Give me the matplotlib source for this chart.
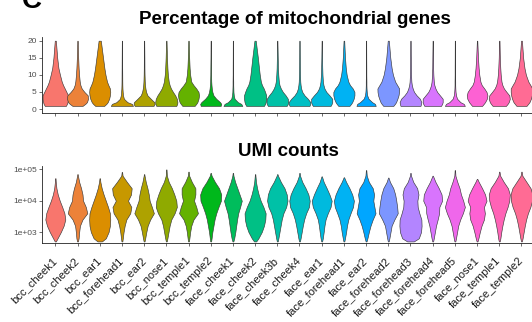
import numpy as np
import matplotlib
matplotlib.use("Agg")
import matplotlib.pyplot as plt

plt.rcParams['font.family'] = ['Liberation Sans', 'DejaVu Sans']

samples = [
    "bcc_cheek1", "bcc_cheek2", "bcc_ear1", "bcc_forehead1", "bcc_ear2",
    "bcc_nose1", "bcc_temple1", "bcc_temple2", "face_cheek1", "face_cheek2",
    "face_cheek3b", "face_cheek4", "face_ear1", "face_forehead1", "face_ear2",
    "face_forehead2", "face_forehead3", "face_forehead4", "face_forehead5",
    "face_nose1", "face_temple1", "face_temple2",
]

# percent mito: density width (fraction of slot) at each level
mito_levels = [0.9, 1.5, 2, 3, 4, 5, 6, 7, 8, 10, 12, 15, 20]
mito_density = [
    [0.95, 1.05, 1.1, 1.15, 1.15, 1.0, 0.85, 0.7, 0.58, 0.42, 0.28, 0.17, 0.05],
    [0.45, 0.7, 0.85, 0.95, 0.92, 0.62, 0.38, 0.26, 0.2, 0.14, 0.1, 0.06, 0.02],
    [0.4, 0.6, 0.72, 0.85, 0.92, 0.95, 0.92, 0.78, 0.66, 0.52, 0.42, 0.3, 0.1],
    [1.0, 0.9, 0.5, 0.18, 0.1, 0.07, 0.05, 0.04, 0.035, 0.03, 0.025, 0.02, 0.01],
    [0.85, 0.95, 0.92, 0.6, 0.3, 0.18, 0.12, 0.08, 0.06, 0.04, 0.03, 0.025, 0.01],
    [0.9, 0.98, 1.0, 0.95, 0.8, 0.6, 0.42, 0.3, 0.22, 0.14, 0.1, 0.06, 0.02],
    [0.55, 0.7, 0.8, 0.9, 0.95, 0.9, 0.7, 0.45, 0.25, 0.15, 0.1, 0.06, 0.02],
    [0.9, 0.95, 0.85, 0.5, 0.25, 0.15, 0.1, 0.07, 0.05, 0.035, 0.03, 0.02, 0.01],
    [0.85, 0.75, 0.45, 0.15, 0.08, 0.05, 0.04, 0.03, 0.03, 0.02, 0.02, 0.015, 0.01],
    [0.8, 0.9, 0.95, 1.0, 1.0, 0.9, 0.78, 0.62, 0.52, 0.42, 0.35, 0.25, 0.06],
    [0.85, 0.95, 0.98, 0.95, 0.75, 0.5, 0.32, 0.2, 0.14, 0.09, 0.06, 0.04, 0.01],
    [0.9, 0.97, 0.98, 0.75, 0.45, 0.25, 0.15, 0.1, 0.07, 0.05, 0.04, 0.03, 0.01],
    [0.8, 0.9, 0.95, 0.95, 0.7, 0.42, 0.25, 0.16, 0.11, 0.07, 0.05, 0.03, 0.01],
    [0.5, 0.65, 0.75, 0.88, 0.95, 0.95, 0.8, 0.55, 0.4, 0.25, 0.17, 0.1, 0.03],
    [0.87, 0.8, 0.55, 0.22, 0.1, 0.06, 0.04, 0.03, 0.03, 0.02, 0.02, 0.015, 0.01],
    [0.45, 0.6, 0.7, 0.82, 0.92, 0.97, 0.98, 0.8, 0.62, 0.42, 0.3, 0.18, 0.05],
    [0.9, 0.95, 0.98, 0.85, 0.55, 0.32, 0.2, 0.12, 0.08, 0.05, 0.04, 0.03, 0.01],
    [0.75, 0.85, 0.9, 0.9, 0.65, 0.4, 0.25, 0.15, 0.1, 0.06, 0.04, 0.03, 0.01],
    [0.9, 0.8, 0.5, 0.2, 0.1, 0.06, 0.04, 0.03, 0.03, 0.02, 0.02, 0.015, 0.01],
    [0.45, 0.6, 0.72, 0.88, 0.93, 0.85, 0.65, 0.42, 0.3, 0.2, 0.14, 0.08, 0.02],
    [0.6, 0.75, 0.85, 0.95, 0.9, 0.65, 0.42, 0.28, 0.2, 0.13, 0.09, 0.05, 0.02],
    [0.45, 0.6, 0.72, 0.85, 0.93, 0.97, 0.97, 0.8, 0.62, 0.4, 0.27, 0.15, 0.04],
]

# UMI counts: density width at each log10 level, plus the top of each violin
umi_log_levels = [2.7, 2.8, 3.0, 3.2, 3.4, 3.6, 3.8, 4.0, 4.2, 4.4, 4.6, 4.8, 5.0]
umi_log_max = [4.72, 4.85, 4.72, 4.92, 4.85, 5.0, 4.93, 4.89, 4.89, 4.85, 4.85,
               4.89, 4.78, 4.75, 4.98, 4.74, 4.89, 4.8, 4.98, 4.7, 4.93, 4.93]
umi_density = [
    [0.05, 0.2, 0.5, 0.75, 0.9, 0.82, 0.62, 0.4, 0.22, 0.1, 0.04, 0, 0],
    [0.04, 0.1, 0.15, 0.22, 0.45, 0.88, 0.75, 0.5, 0.45, 0.32, 0.15, 0.04, 0],
    [0.2, 0.55, 0.8, 0.92, 0.95, 0.92, 0.75, 0.55, 0.35, 0.18, 0.06, 0, 0],
    [0.04, 0.08, 0.15, 0.25, 0.4, 0.75, 0.85, 0.55, 0.82, 0.88, 0.45, 0.06, 0],
    [0.04, 0.1, 0.2, 0.32, 0.55, 0.88, 0.7, 0.5, 0.42, 0.3, 0.15, 0.04, 0],
    [0.04, 0.1, 0.2, 0.3, 0.45, 0.75, 0.95, 0.9, 0.72, 0.5, 0.22, 0.05, 0],
    [0.04, 0.08, 0.15, 0.25, 0.45, 0.85, 0.7, 0.5, 0.62, 0.62, 0.3, 0.06, 0],
    [0.04, 0.08, 0.15, 0.25, 0.35, 0.5, 0.7, 0.92, 0.95, 0.75, 0.38, 0.08, 0],
    [0.04, 0.12, 0.22, 0.3, 0.38, 0.48, 0.65, 0.8, 0.6, 0.4, 0.2, 0.05, 0],
    [0.1, 0.3, 0.6, 0.8, 0.92, 0.95, 0.75, 0.5, 0.32, 0.18, 0.08, 0.03, 0],
    [0.04, 0.1, 0.2, 0.3, 0.4, 0.55, 0.8, 0.92, 0.85, 0.65, 0.32, 0.06, 0],
    [0.04, 0.1, 0.2, 0.3, 0.42, 0.6, 0.85, 0.92, 0.8, 0.55, 0.25, 0.05, 0],
    [0.04, 0.1, 0.18, 0.25, 0.35, 0.55, 0.8, 0.9, 0.7, 0.45, 0.18, 0.04, 0],
    [0.04, 0.1, 0.2, 0.28, 0.4, 0.6, 0.82, 0.9, 0.75, 0.5, 0.2, 0, 0],
    [0.04, 0.12, 0.25, 0.4, 0.6, 0.85, 0.75, 0.65, 0.72, 0.6, 0.25, 0.06, 0],
    [0.04, 0.1, 0.2, 0.3, 0.55, 0.85, 0.8, 0.72, 0.62, 0.45, 0.15, 0, 0],
    [0.3, 0.75, 0.95, 1.0, 0.98, 0.8, 0.65, 0.62, 0.72, 0.6, 0.25, 0.05, 0],
    [0.04, 0.1, 0.2, 0.3, 0.45, 0.58, 0.6, 0.85, 0.8, 0.55, 0.25, 0.04, 0],
    [0.04, 0.1, 0.2, 0.3, 0.48, 0.72, 0.9, 0.75, 0.55, 0.42, 0.22, 0.05, 0],
    [0.04, 0.12, 0.25, 0.4, 0.62, 0.7, 0.62, 0.85, 0.72, 0.45, 0.15, 0, 0],
    [0.04, 0.1, 0.18, 0.28, 0.4, 0.55, 0.75, 0.9, 0.95, 0.78, 0.4, 0.08, 0],
    [0.04, 0.1, 0.2, 0.3, 0.42, 0.58, 0.8, 0.95, 0.98, 0.82, 0.45, 0.08, 0],
]


def hue_pal(n, l=65, c=100):
    # ggplot-style evenly spaced HCL hues
    hues = np.linspace(15, 375, n + 1)[:-1]
    Xn, Yn, Zn = 95.047, 100.0, 108.883
    un = 4 * Xn / (Xn + 15 * Yn + 3 * Zn)
    vn = 9 * Yn / (Xn + 15 * Yn + 3 * Zn)
    M = np.array([[3.2404542, -1.5371385, -0.4985314],
                  [-0.9692660, 1.8760108, 0.0415560],
                  [0.0556434, -0.2040259, 1.0572252]])
    out = []
    for h in hues:
        hr = np.deg2rad(h)
        u, v = c * np.cos(hr), c * np.sin(hr)
        Y = Yn * ((l + 16) / 116) ** 3
        up = u / (13 * l) + un
        vp = v / (13 * l) + vn
        X = Y * 9 * up / (4 * vp)
        Z = Y * (12 - 3 * up - 20 * vp) / (4 * vp)
        rgb = M @ (np.array([X, Y, Z]) / 100)
        rgb = np.clip(rgb, 0, None)
        rgb = np.where(rgb <= 0.0031308, 12.92 * rgb, 1.055 * rgb ** (1 / 2.4) - 0.055)
        out.append(tuple(np.clip(rgb, 0, 1)))
    return out


def violin_stats(levels, widths, top=None):
    levels = np.asarray(levels, float)
    widths = np.asarray(widths, float)
    if top is not None:
        keep = levels < top
        levels = np.append(levels[keep], top)
        widths = np.append(widths[keep], 0.02)
    return {"coords": levels, "vals": widths, "mean": levels.mean(),
            "median": np.median(levels), "min": levels[0], "max": levels[-1]}


def draw_violins(ax, stats, colors):
    pos = np.arange(len(stats))
    widths = [s["vals"].max() for s in stats]
    parts = ax.violin(stats, positions=pos, widths=widths, showextrema=False)
    for body, col in zip(parts["bodies"], colors):
        body.set_facecolor(col)
        body.set_edgecolor("#3a3a3a")
        body.set_linewidth(0.45)
        body.set_alpha(1)


def style_axis(ax):
    for side in ("top", "right"):
        ax.spines[side].set_visible(False)
    for side in ("left", "bottom"):
        ax.spines[side].set_linewidth(0.6)
        ax.spines[side].set_color("#222222")
    ax.tick_params(length=2.2, width=0.5, color="#333333", labelsize=6,
                   labelcolor="#4d4d4d", pad=1.5)
    ax.set_xlim(-0.6, len(samples) - 0.4)
    ax.set_xticks(np.arange(len(samples)))


W, H = 532, 322
fig = plt.figure(figsize=(W / 100, H / 100), dpi=100)
colors = hue_pal(len(samples))

# top panel: percentage of mitochondrial genes
ax1 = fig.add_axes([42 / W, (H - 113) / H, 492.8 / W, 76.3 / H])
mito_stats = [violin_stats(mito_levels, d) for d in mito_density]
draw_violins(ax1, mito_stats, colors)
style_axis(ax1)
ax1.set_ylim(-1.17, 21.17)
ax1.set_yticks([0, 5, 10, 15, 20])
ax1.set_xticklabels([])

# bottom panel: UMI counts on log scale
ax2 = fig.add_axes([42 / W, (H - 243.3) / H, 492.8 / W, 77.0 / H])
umi_stats = []
for d, top in zip(umi_density, umi_log_max):
    s = violin_stats(umi_log_levels, d, top)
    s["coords"] = 10 ** s["coords"]
    s["mean"], s["median"] = 10 ** s["mean"], 10 ** s["median"]
    s["min"], s["max"] = s["coords"][0], s["coords"][-1]
    umi_stats.append(s)
draw_violins(ax2, umi_stats, colors)
style_axis(ax2)
ax2.set_yscale("log")
ax2.set_ylim(10 ** 2.64, 10 ** 5.1)
ax2.set_yticks([1e3, 1e4, 1e5])
ax2.set_yticklabels(["1e+03", "1e+04", "1e+05"])
ax2.minorticks_off()
ax2.set_xticklabels(samples, rotation=45, ha="right", va="center",
                    rotation_mode="anchor", fontsize=8, color="#1a1a1a")
ax2.tick_params(axis="x", pad=9)

fig.text(295 / W, 1 - 20 / H, "Percentage of mitochondrial genes",
         ha="center", va="center", fontsize=13.5, fontweight="bold")
fig.text(288 / W, 1 - 151 / H, "UMI counts",
         ha="center", va="center", fontsize=13.5, fontweight="bold")
# panel letter, clipped at the top edge
fig.text(22 / W, 1 - 8.5 / H, "C", ha="left", va="baseline",
         fontsize=20, fontweight="bold")

fig.savefig("out.png", dpi=100)
